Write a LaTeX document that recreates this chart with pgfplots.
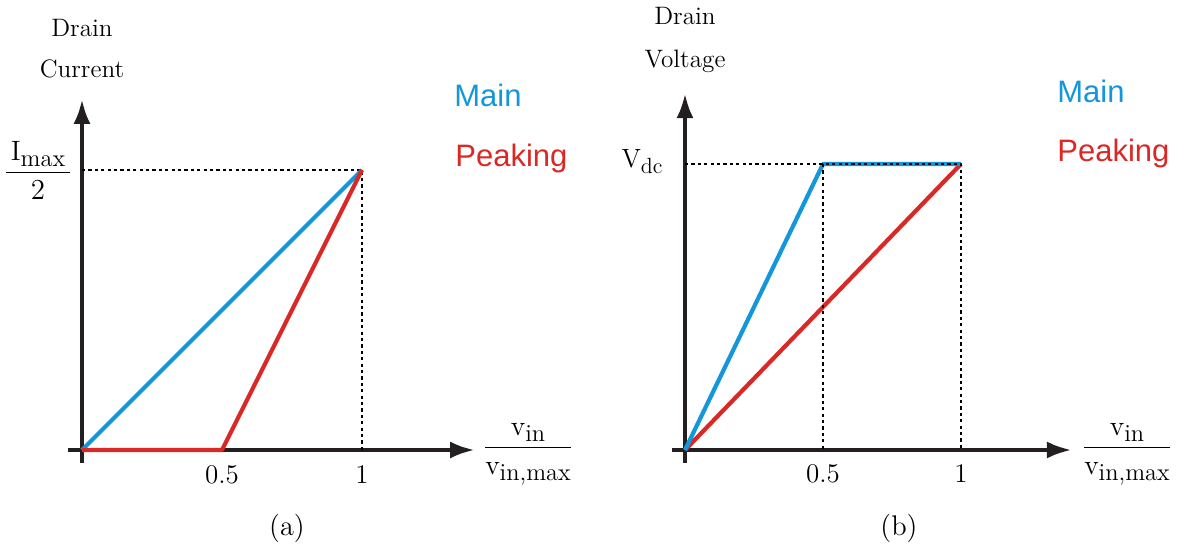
\documentclass[border=0pt]{standalone}
\usepackage{fontspec}
\usepackage{pgfplots}
\pgfplotsset{compat=1.18}
\usetikzlibrary{arrows.meta}
\newfontfamily\sansf{Liberation Sans}

\definecolor{mainblue}{RGB}{20,150,218}
\definecolor{peakred}{RGB}{218,40,38}
\definecolor{axisblack}{RGB}{35,31,32}

\pgfplotsset{
  ampstyle/.style={
    axis lines=middle,
    clip=false,
    xtick=\empty, ytick=\empty,
    axis line style={axisblack, line width=2.3pt,
      -{Latex[length=12.5pt,width=8.5pt]}},
    anchor=origin,
  },
  guide/.style={black, line width=0.6pt, dash pattern=on 1.6pt off 1.6pt, no marks},
  mainline/.style={mainblue, line width=2.1pt, no marks, line join=round},
  peakline/.style={peakred, line width=2.1pt, no marks, line join=round},
}

\newcommand{\labfont}{\fontsize{12.6}{15}\selectfont}
\newcommand{\numfont}{\fontsize{13.5}{16}\selectfont}
\newcommand{\capfont}{\fontsize{14.2}{17}\selectfont}
\newcommand{\legfont}{\sansf\fontsize{15.5}{18}\selectfont}
% upright symbol with a large, slightly lowered subscript
\newcommand{\qty}[2]{\mbox{\fontsize{13.2}{16}\selectfont #1\raisebox{-2.6pt}{\fontsize{11}{13}\selectfont #2}}}
\newcommand{\qtyb}[2]{\mbox{\fontsize{14}{16}\selectfont #1\raisebox{-2.8pt}{\fontsize{12.2}{14}\selectfont #2}}}

\begin{document}
\begin{tikzpicture}
\useasboundingbox (0,0) rectangle (600pt,273.5pt);

% ---------- (a) drain current ----------
\begin{axis}[ampstyle, at={(41pt,48.5pt)}, x=140pt, y=140pt,
  xmin=-0.05, xmax=1.404, ymin=-0.046, ymax=1.254]
  \addplot[guide] coordinates {(0,1) (1,1) (1,0)};
  \addplot[mainline] coordinates {(0,0) (1,1)};
  \addplot[peakline] coordinates {(0,0) (0.5,0) (1,1)};
  \node[anchor=base, font=\numfont] at (axis cs:0.5,-0.118) {0.5};
  \node[anchor=base, font=\numfont] at (axis cs:1,-0.118) {1};
\end{axis}

% ---------- (b) drain voltage ----------
\begin{axis}[ampstyle, at={(342.5pt,48.5pt)}, x=138pt, y=143pt,
  xmin=-0.047, xmax=1.402, ymin=-0.045, ymax=1.248]
  \addplot[peakline] coordinates {(0,0) (1,1)};
  \addplot[mainline] coordinates {(0,0) (0.5,1) (1,1)};
  \addplot[guide] coordinates {(0,1) (1,1) (1,0)};
  \addplot[guide] coordinates {(0.5,1) (0.5,0)};
  \node[anchor=base, font=\numfont] at (axis cs:0.5,-0.115) {0.5};
  \node[anchor=base, font=\numfont] at (axis cs:1,-0.115) {1};
\end{axis}

% axis titles and labels
\node[anchor=base, font=\labfont] at (41pt,255pt) {Drain};
\node[anchor=base, font=\labfont] at (41pt,234.5pt) {Current};
\node[anchor=base, font=\numfont] at (19pt,183.5pt)
  {$\displaystyle\frac{\,\qtyb{I}{max}\,}{\mbox{\fontsize{14.5}{16}\selectfont 2}}$};
\node[anchor=base, font=\numfont] at (264pt,46pt)
  {$\displaystyle\frac{\qtyb{v}{in}}{\qtyb{v}{in,max}}$};
\node[anchor=base, font=\capfont] at (143.5pt,6pt) {(a)};
\node[anchor=base west, font=\legfont, text=mainblue, inner sep=0pt] at (227pt,220pt) {Main};
\node[anchor=base west, font=\legfont, text=peakred, inner sep=0pt] at (227.5pt,190pt) {Peaking};

\node[anchor=base, font=\labfont] at (342.5pt,261pt) {Drain};
\node[anchor=base, font=\labfont] at (342.5pt,239.5pt) {Voltage};
\node[anchor=base, inner sep=0pt] at (321pt,189.5pt) {\qty{V}{dc}};
\node[anchor=base, font=\numfont] at (563.5pt,46pt)
  {$\displaystyle\frac{\qtyb{v}{in}}{\qtyb{v}{in,max}}$};
\node[anchor=base, font=\capfont] at (449.5pt,6pt) {(b)};
\node[anchor=base west, font=\legfont, text=mainblue, inner sep=0pt] at (528.5pt,222pt) {Main};
\node[anchor=base west, font=\legfont, text=peakred, inner sep=0pt] at (528.5pt,192.5pt) {Peaking};
\end{tikzpicture}
\end{document}
